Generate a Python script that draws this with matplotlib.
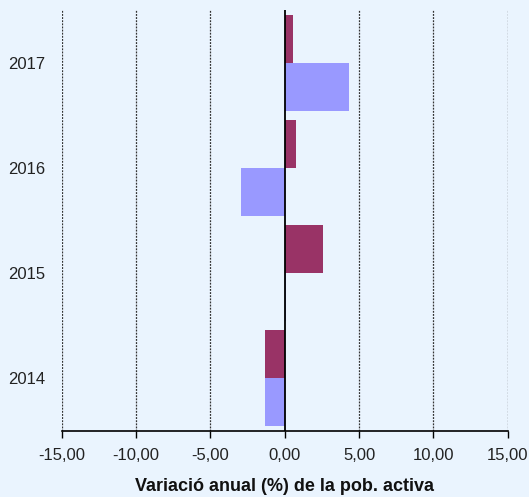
import matplotlib.pyplot as plt
import numpy as np

plt.rcParams['font.family'] = ['Liberation Sans', 'DejaVu Sans']

years = ['2014', '2015', '2016', '2017']
serie_a = [-1.34, 0.05, -2.96, 4.30]   # blava
serie_b = [-1.34, 2.60, 0.77, 0.56]    # granat
xticks = [-15, -10, -5, 0, 5, 10, 15]

bg = '#EAF4FE'
fig = plt.figure(figsize=(5.29, 4.97), dpi=100, facecolor=bg)
ax = fig.add_axes([0.1166, 0.1328, 0.8434, 0.8472], facecolor=bg)

y = np.arange(len(years))
h = 0.456
ax.barh(y - h / 2, serie_a, height=h, color='#9999FF', zorder=2)
ax.barh(y + h / 2, serie_b, height=h, color='#993366', zorder=2)

for xv in xticks:
    if xv == 0:
        ax.axvline(0, color='black', lw=1.3, zorder=3)
    else:
        ax.axvline(xv, color='#333333', lw=0.9, ls=(0, (1.5, 1)), zorder=1)

ax.set_xlim(-15, 15)
ax.set_ylim(-0.5, 3.5)
ax.set_xticks(xticks)
ax.set_xticklabels([f'{v:.2f}'.replace('.', ',') for v in xticks], fontsize=12, color='#222222')
ax.set_yticks(y)
ax.set_yticklabels(years, fontsize=12, color='#222222')
ax.tick_params(axis='y', length=0, pad=12)
ax.tick_params(axis='x', length=5, width=1, direction='out', pad=7)

for s in ['top', 'right', 'left']:
    ax.spines[s].set_visible(False)
ax.spines['bottom'].set_linewidth(1.2)

ax.set_xlabel('Variació anual (%) de la pob. activa', fontsize=13, fontweight='bold', labelpad=11, color='#111111')

fig.savefig('out.png', dpi=100, facecolor=bg)
